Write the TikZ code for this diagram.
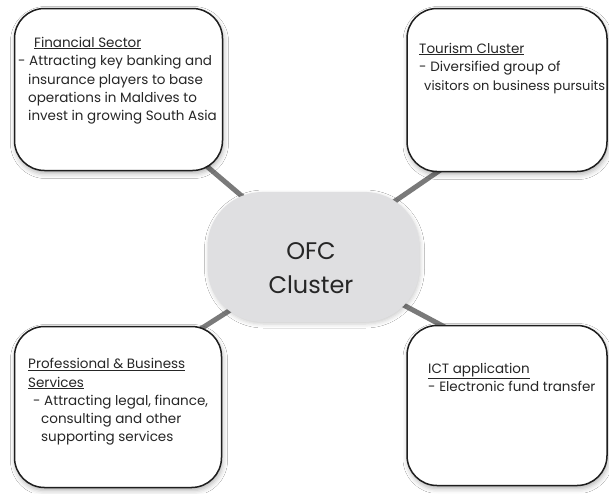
\documentclass[tikz,border=0pt]{standalone}
\usepackage{fontspec}
\setmainfont{Poppins}
\usetikzlibrary{shadows.blur,backgrounds}
\definecolor{txtc}{HTML}{262626}
\definecolor{linkc}{HTML}{7A7A7A}
\definecolor{hubc}{HTML}{DFDFE1}
\definecolor{edgec}{HTML}{1E1E1E}
\newcommand\myul[1]{\underline{#1}}
\begin{document}
\begin{tikzpicture}[x=1pt,y=-1pt,
  card/.style={draw=edgec, line width=1.5pt, fill=white, rounded corners=30pt,
    inner sep=0pt,
    blur shadow={shadow xshift=1pt, shadow yshift=-3pt, shadow blur radius=5pt, shadow opacity=30}},
  hub/.style={fill=hubc, rounded corners=55pt, inner sep=0pt,
    minimum width=212pt, minimum height=130pt,
    blur shadow={shadow xshift=1pt, shadow yshift=-2pt, shadow blur radius=4pt, shadow opacity=20}},
  txt/.style={anchor=base west, inner sep=0pt, text=txtc, font=\fontsize{13.5}{16}\selectfont},
  big/.style={anchor=base, inner sep=0pt, text=txtc, font=\fontsize{24}{28}\selectfont},
  link/.style={draw=linkc, line width=5pt}]
\useasboundingbox (0,0) rectangle (609,493);

% boxes
\node[card, minimum width=208pt, minimum height=162pt] (fin) at (118.5,89.5) {};
\node[card, minimum width=200pt, minimum height=163pt] (tour) at (507,90) {};
\node[card, minimum width=207pt, minimum height=161pt] (prof) at (118,407) {};
\node[card, minimum width=200pt, minimum height=160pt] (ict) at (507,405.5) {};

% hub
\node[hub] (hub) at (313.5,257) {};
\node[big] (ofc1) at (311,259) {OFC};
\node[big] (ofc2) at (311,293) {Cluster};

% connector ends
\coordinate (finend) at (190,152);
\coordinate (tourend) at (452,162);
\coordinate (profend) at (188,337);
\coordinate (ictend) at (456,333);

\begin{scope}[on background layer]
  \fill[white] (0,0) rectangle (609,493);
  \draw[link] (hub.center) -- (finend);
  \draw[link] (hub.center) -- (tourend);
  \draw[link] (hub.center) -- (profend);
  \draw[link] (hub.center) -- (ictend);
\end{scope}

% Financial sector text
\node[txt] (f1) at (34,47) {\myul{Financial Sector}};
\node[txt] (f2) at (18,65.5) {- Attracting key banking and};
\node[txt] (f3) at (28,84) {insurance players to base};
\node[txt] (f4) at (28,102) {operations in Maldives to};
\node[txt] (f5) at (28,120) {invest in growing South Asia};

% Tourism
\node[txt] (t1) at (419,53) {\myul{Tourism Cluster}};
\node[txt] (t2) at (419,71.5) {- Diversified group of};
\node[txt, font=\fontsize{13}{16}\selectfont] (t3) at (424,90) {visitors on business pursuits};

% Professional
\node[txt] (p1) at (28,368.5) {\myul{Professional \& Business}};
\node[txt] (p2) at (28,387) {\myul{Services}};
\node[txt] (p3) at (33,405) {- Attracting legal, finance,};
\node[txt] (p4) at (41,423) {consulting and other};
\node[txt] (p5) at (41,441) {supporting services};

% ICT
\node[txt] (i1) at (428,373) {\myul{ICT application}};
\node[txt] (i2) at (428,391.5) {- Electronic fund transfer};
\end{tikzpicture}
\end{document}
